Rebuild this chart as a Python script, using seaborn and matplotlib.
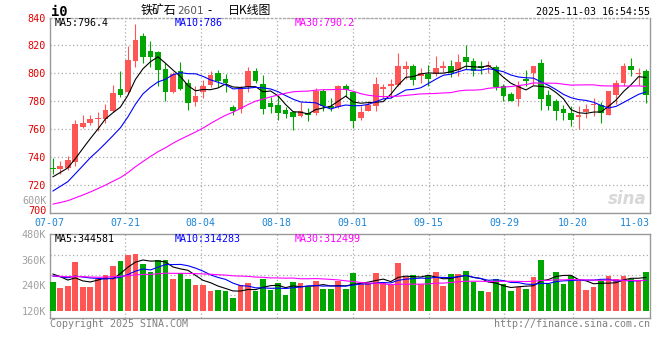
import numpy as np
import pandas as pd
import matplotlib
matplotlib.use("Agg")
import matplotlib.pyplot as plt
import seaborn as sns

# ---------------- data ----------------
open_ = [732.5, 731.2, 731.9, 736.2, 761.9, 764.5, 767.0, 767.1, 772.9, 788.8,
         786.9, 809.0, 826.4, 816.0, 815.2, 803.1, 786.9, 801.5, 792.9, 779.8,
         786.7, 791.9, 800.2, 796.0, 776.2, 774.8, 790.0, 801.7, 792.4, 779.0,
         777.4, 774.0, 772.4, 769.8, 771.7, 771.4, 787.6, 776.7, 776.2, 791.0,
         786.9, 768.3, 773.1, 776.9, 789.0, 791.0, 791.7, 803.3, 805.2, 797.9,
         799.5, 799.5, 803.8, 805.2, 802.4, 811.7, 808.8, 805.0, 804.8, 804.3,
         791.2, 785.2, 781.9, 796.0, 800.2, 807.4, 784.5, 780.0, 774.5, 771.9,
         768.6, 772.6, 777.1, 777.4, 770.5, 784.5, 792.9, 805.2, 799.8, 801.7]
high = [739.5, 736.9, 740.7, 766.9, 770.2, 770.5, 772.1, 778.1, 791.9, 801.7,
        819.8, 835.0, 828.6, 823.3, 816.2, 807.4, 801.0, 808.1, 796.0, 791.0,
        795.2, 801.9, 802.4, 799.5, 777.6, 791.0, 804.3, 803.8, 799.0, 782.9,
        784.0, 775.7, 772.9, 779.3, 775.2, 789.5, 788.6, 782.4, 791.7, 792.4,
        787.6, 776.4, 780.5, 797.4, 792.4, 796.0, 814.5, 809.0, 807.0, 803.6,
        806.0, 812.4, 809.0, 809.5, 813.8, 820.2, 811.0, 808.6, 808.6, 806.2,
        792.4, 786.9, 794.3, 802.4, 805.5, 810.5, 788.1, 781.7, 777.6, 776.9,
        776.9, 778.1, 782.4, 779.3, 787.6, 795.2, 807.1, 811.0, 803.8, 802.9]
low = [728.1, 727.6, 731.0, 734.0, 761.0, 763.3, 758.6, 764.3, 772.0, 782.9,
       785.2, 804.8, 807.1, 804.3, 790.7, 780.5, 786.0, 788.0, 774.0, 776.9,
       782.4, 790.5, 790.5, 786.9, 770.5, 771.4, 786.7, 792.9, 771.0, 771.7,
       766.7, 767.9, 759.5, 769.0, 766.2, 770.0, 772.9, 772.9, 775.0, 783.3,
       761.2, 766.9, 772.9, 773.3, 782.4, 782.4, 791.2, 796.0, 791.7, 793.1,
       790.7, 798.3, 800.7, 797.1, 798.3, 803.1, 798.3, 799.5, 800.0, 788.3,
       780.0, 780.0, 776.9, 791.2, 791.7, 774.0, 774.0, 766.9, 766.9, 762.6,
       759.8, 768.1, 769.8, 764.5, 770.0, 778.1, 791.0, 798.1, 791.9, 778.6]
close = [731.5, 733.6, 737.6, 763.8, 764.5, 767.1, 767.4, 773.8, 786.0, 784.8,
         809.5, 824.0, 811.9, 811.4, 802.6, 786.4, 799.5, 788.8, 778.8, 784.0,
         791.2, 798.8, 794.8, 793.1, 773.3, 789.5, 801.7, 794.8, 774.8, 776.2,
         771.7, 771.0, 769.0, 773.1, 770.0, 787.1, 776.9, 775.2, 791.0, 788.3,
         766.2, 772.4, 777.4, 792.4, 790.5, 792.4, 805.2, 805.2, 795.2, 800.0,
         796.0, 804.0, 805.5, 800.0, 807.9, 808.3, 801.9, 803.6, 806.0, 790.5,
         784.0, 780.5, 791.2, 794.5, 805.2, 781.9, 776.9, 773.3, 771.4, 766.9,
         770.5, 774.5, 778.1, 771.7, 787.1, 792.9, 805.2, 802.4, 800.5, 784.5]
# closes of the 29 sessions before 07-07 (estimated from where the MA lines start)
prior_close = [700, 698, 703, 705, 700, 696, 699, 703, 706, 702,
               698, 700, 703, 701, 701, 702, 704, 701, 706, 706.5,
               700, 704, 707, 707, 709.5, 718, 721, 731, 728]

# volume in thousands
volume_k = [256.6, 226.8, 236.2, 350.8, 231.5, 231.5, 270.7, 288.0, 330.4, 353.9,
            382.2, 388.5, 339.8, 303.7, 358.6, 358.6, 269.2, 295.8, 269.2, 240.9,
            240.9, 212.6, 217.3, 212.6, 181.2, 239.3, 250.3, 212.6, 269.2, 218.9,
            248.7, 193.8, 255.0, 248.7, 229.9, 259.7, 222.1, 222.1, 258.2, 222.1,
            297.4, 245.6, 248.7, 297.4, 255.0, 239.3, 344.5, 277.0, 286.4, 245.6,
            281.7, 302.1, 236.2, 292.7, 292.7, 306.8, 255.0, 212.6, 207.9, 269.2,
            244.0, 212.6, 229.9, 222.1, 278.6, 358.6, 245.6, 302.1, 245.6, 281.7,
            258.2, 217.3, 231.5, 258.2, 283.3, 269.2, 283.3, 269.2, 259.7, 302.1]
prior_volume_k = [270, 295, 310, 265, 280, 300, 275, 260, 290, 305,
                  285, 270, 295, 280, 265, 300, 290, 275, 280, 278,
                  260, 285, 270, 280, 274.5, 290, 315, 300, 302.9]

date_labels = ["07-07", "07-21", "08-04", "08-18", "09-01", "09-15", "09-29", "10-20", "11-03"]
date_label_idx = [0, 10, 20, 30, 40, 50, 60, 69, 79]
price_ticks = [700, 720, 740, 760, 780, 800, 820, 840]
vol_ticks = [120, 240, 360, 480]

title_parts = ["铁矿石", "2601", "-", "日K线图"]
code_text = "i0"
stamp_text = "2025-11-03 16:54:55"
price_legend = ["MA5:796.4", "MA10:786", "MA30:790.2"]
vol_legend = ["MA5:344581", "MA10:314283", "MA30:312499"]

# ---------------- styling ----------------
RED = "#ff5555"
GREEN = "#00a600"
GRID = "#aaaaaa"
FRAME = "#999999"
PRICE_LABEL = "#e00000"
MA_COLORS = ["#000000", "#0000ff", "#ff00ff"]

sns.set_theme(style="white")
plt.rcParams['font.family'] = ['DejaVu Sans Mono', 'Noto Sans CJK SC']

W, H = 660, 360
def fx(x):
    return x / W
def fy(y):
    return 1 - y / H

fig = plt.figure(figsize=(6.6, 3.6), dpi=100)
fig.patch.set_facecolor("white")

# panel geometry (pixels)
L, R = 50, 650
P_TOP, P_BOT = 17.5, 213
V_TOP, V_BOT = 234.3, 317.7

ax1 = fig.add_axes([fx(L), fy(P_BOT), (R - L) / W, (P_BOT - P_TOP) / H])
ax2 = fig.add_axes([fx(L), fy(V_BOT), (R - L) / W, (V_BOT - V_TOP) / H], sharex=ax1)

n = len(close)
idx = np.arange(n)
df = pd.DataFrame({"i": idx, "open": open_, "high": high, "low": low,
                   "close": close, "vol": volume_k})
df["up"] = df["close"] >= df["open"]
df["color"] = np.where(df["up"], RED, GREEN)

# moving averages (using the hidden history before the first session)
full_close = pd.Series(prior_close + close)
full_vol = pd.Series(prior_volume_k + volume_k)
for w in (5, 10, 30):
    df[f"ma{w}"] = full_close.rolling(w).mean().iloc[-n:].to_numpy()
    df[f"vma{w}"] = full_vol.rolling(w).mean().iloc[-n:].to_numpy()

xlim = (-0.373, 79.52)
# Sina spaces its date grid slightly wider than the candles
grid_pos = [k * 1.0107 - 0.5 for k in date_label_idx[1:-1]]

dotted = (0, (1, 2))
for ax in (ax1, ax2):
    ax.set_facecolor("white")
    ax.set_xlim(*xlim)
    ax.set_xticks(grid_pos)
    ax.tick_params(axis="x", length=0, labelbottom=False)
    ax.grid(True, axis="x", color=GRID, linestyle=dotted, linewidth=0.9)
    for s in ("left", "right", "bottom", "top"):
        ax.spines[s].set_color(FRAME)
        ax.spines[s].set_linewidth(1.0)

# ---------------- price panel ----------------
ax1.set_ylim(700, 840)
ax1.set_yticks(price_ticks)
# the bottom label sits a little higher (drawn separately below)
ax1.set_yticklabels(["" if t == price_ticks[0] else str(t) for t in price_ticks])
ax1.tick_params(axis="y", length=0, pad=3, labelsize=7.3, labelcolor=PRICE_LABEL)
ax1.grid(True, axis="y", color=GRID, linestyle=dotted, linewidth=0.9)
ax1.spines["top"].set_linestyle(dotted)
ax1.spines["top"].set_color(GRID)

body = (df["close"] - df["open"]).abs().clip(lower=0.7)
bottom = df[["open", "close"]].min(axis=1)
ax1.vlines(df["i"], df["low"], df["high"], colors=df["color"], linewidth=0.8, zorder=3)
ax1.bar(df["i"], body, bottom=bottom, width=0.76, color=df["color"],
        linewidth=0, zorder=4)

for w, c in zip((5, 10, 30), MA_COLORS):
    sns.lineplot(data=df, x="i", y=f"ma{w}", ax=ax1, color=c, linewidth=0.8,
                 estimator=None, zorder=5, legend=False)
ax1.set_xlabel("")
ax1.set_ylabel("")
fig.text(fx(46.5), fy(211), str(price_ticks[0]), ha="right", va="center",
         fontsize=7.3, color=PRICE_LABEL)

# ---------------- volume panel ----------------
ax2.set_ylim(87.0, 480)
ax2.set_yticks(vol_ticks)
ax2.set_yticklabels([f"{t}K" for t in vol_ticks])
ax2.tick_params(axis="y", length=0, pad=3, labelsize=7.3, labelcolor="#a0a0a0")
for f in (0.268, 0.508, 0.748):
    ax2.plot([0, 1], [f, f], transform=ax2.transAxes, color=GRID,
             linestyle=dotted, linewidth=0.9, zorder=1)
ax2.bar(df["i"], df["vol"] - 120, bottom=120, width=0.76, color=df["color"],
        linewidth=0, zorder=3)
for w, c in zip((5, 10, 30), MA_COLORS):
    sns.lineplot(data=df, x="i", y=f"vma{w}", ax=ax2, color=c, linewidth=0.8,
                 estimator=None, zorder=5, legend=False)
ax2.set_xlabel("")
ax2.set_ylabel("")

# ---------------- date labels ----------------
lab_y = fy(223)
for k, lab in zip(date_label_idx, date_labels):
    if k == date_label_idx[0]:
        fig.text(fx(49), lab_y, lab, ha="center", va="center", fontsize=7.1, color="#1a86d8")
    elif k == date_label_idx[-1]:
        fig.text(fx(650), lab_y, lab, ha="right", va="center", fontsize=7.1, color="#1a86d8")
    else:
        xd = k * 1.0107 - 0.5
        fig.text(fx(50 + (xd - xlim[0]) * 600 / (xlim[1] - xlim[0])), lab_y, lab,
                 ha="center", va="center", fontsize=7.1, color="#1a86d8")

# ---------------- header texts ----------------
fig.text(fx(51), fy(12), code_text, ha="left", va="center", fontsize=9.8,
         fontweight="bold", color="black")
cjk = ["Noto Sans CJK SC", "DejaVu Sans"]
fig.text(fx(141), fy(10.5), title_parts[0], ha="left", va="center", fontsize=8.6,
         color="black", family=cjk)
fig.text(fx(177), fy(11), title_parts[1], ha="left", va="center", fontsize=7.6,
         color="#555555", family=["DejaVu Sans"])
fig.text(fx(210), fy(10.5), title_parts[2], ha="center", va="center", fontsize=8.6,
         color="black", family=cjk)
fig.text(fx(228), fy(10.5), title_parts[3], ha="left", va="center", fontsize=8.6,
         color="black", family=cjk)
fig.text(fx(650), fy(12), stamp_text, ha="right", va="center", fontsize=7.2, color="black")

for (txt, x0), c in zip(zip(price_legend, (55, 175, 295)), MA_COLORS):
    fig.text(fx(x0), fy(23.5), txt, ha="left", va="center", fontsize=7.2, color=c)
for (txt, x0), c in zip(zip(vol_legend, (55, 175, 295)), MA_COLORS):
    fig.text(fx(x0), fy(239), txt, ha="left", va="center", fontsize=7.2, color=c)

fig.text(fx(47), fy(201), "600K", ha="right", va="center", fontsize=7.3, color="#a0a0a0")
fig.text(fx(50), fy(324), "Copyright 2025 SINA.COM", ha="left", va="center",
         fontsize=7.2, color="#808080")
fig.text(fx(650), fy(324), "http://finance.sina.com.cn", ha="right", va="center",
         fontsize=7.2, color="#808080")
fig.text(fx(647), fy(199), "sina", ha="right", va="center", fontsize=12,
         fontstyle="italic", fontweight="bold", color="#d8d8d8",
         family=["DejaVu Sans"])

fig.savefig("out.png", dpi=100)
